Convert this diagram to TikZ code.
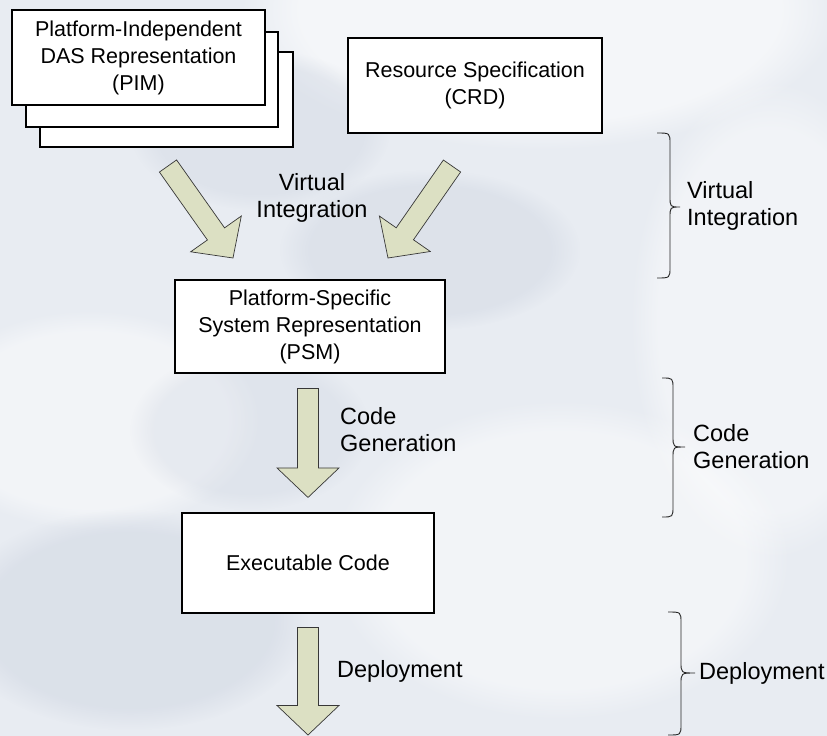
\documentclass[tikz,border=0pt]{standalone}
\usepackage{fontspec}
\setmainfont{Liberation Sans}
\usetikzlibrary{calc,fadings}

\definecolor{bgbase}{RGB}{232,236,242}
\definecolor{bgshade}{RGB}{205,212,224}
\definecolor{arrowfill}{RGB}{220,224,195}
\definecolor{arrowline}{RGB}{55,55,55}

% block arrow from tail coordinate #1 to tip coordinate #2
\newcommand\blockarrow[2]{%
  \coordinate (ba-h) at ($(#2)!29.5pt!(#1)$);
  \filldraw[fatarrow]
    ($(#1)!10.5pt!90:(#2)$) -- ($(ba-h)!10.5pt!90:(#2)$) -- ($(ba-h)!31pt!90:(#2)$)
    -- (#2)
    -- ($(ba-h)!31pt!-90:(#2)$) -- ($(ba-h)!10.5pt!-90:(#2)$) -- ($(#1)!10.5pt!-90:(#2)$)
    -- cycle;}

% curly bracket opening to the right: hook x, spine x, tip x, top y, tip y, bottom y
\newcommand\sidebrace[6]{%
  \draw[bracket]
    (#1,#4) .. controls (#2,#4) .. (#2,#4+11) -- (#2,#5-11)
    .. controls (#2,#5) .. (#3,#5)
    .. controls (#2,#5) .. (#2,#5+11) -- (#2,#6-11)
    .. controls (#2,#6) .. (#1,#6);}

\begin{document}
\begin{tikzpicture}[x=1pt,y=-1pt,
  box/.style={draw=black, line width=1.1pt, fill=white, inner sep=0pt,
    align=center, font=\fontsize{21.5}{27}\selectfont},
  fatarrow/.style={fill=arrowfill, draw=arrowline, line width=0.7pt, line join=miter},
  bracket/.style={draw=black!85, line width=0.9pt},
  lbl/.style={inner sep=0pt, font=\fontsize{23.5}{27}\selectfont},
  haze/.style={path fading=circle with fuzzy edge 20 percent}]

\useasboundingbox (0,0) rectangle (827,736);

% soft backdrop
\fill[bgbase] (0,0) rectangle (827,736);
\begin{scope}
  \clip (0,0) rectangle (827,736);
  \fill[white, opacity=0.55, haze] (540,10) ellipse (300 and 140);
  \fill[white, opacity=0.45, haze] (90,420) ellipse (170 and 110);
  \fill[white, opacity=0.45, haze] (560,560) ellipse (230 and 160);
  \fill[white, opacity=0.40, haze] (770,320) ellipse (140 and 240);
  \fill[bgshade, opacity=0.45, haze] (130,620) ellipse (180 and 110);
  \fill[bgshade, opacity=0.40, haze] (430,250) ellipse (150 and 80);
  \fill[bgshade, opacity=0.35, haze] (260,130) ellipse (130 and 80);
  \fill[bgshade, opacity=0.30, haze] (250,430) ellipse (120 and 80);
\end{scope}

% model boxes
\node[box, minimum width=253pt, minimum height=95pt] (pim3) at (166.5,99.5) {};
\node[box, minimum width=252pt, minimum height=95pt] (pim2) at (152,79.5) {};
\node[box, minimum width=253pt, minimum height=95pt] (pim) at (138.5,57.5)
  {Platform-Independent\\DAS Representation\\(PIM)};
\node[box, minimum width=254pt, minimum height=95pt] (crd) at (475,85.5)
  {Resource Specification\\(CRD)};
\node[box, minimum width=270pt, minimum height=93pt] (psm) at (310,326.5)
  {Platform-Specific\\System Representation\\(PSM)};
\node[box, minimum width=252pt, minimum height=100pt] (exe) at (308,563)
  {Executable Code};

% arrow end points
\coordinate (vi-l-tail) at (168,166);
\coordinate (vi-l-tip)  at (233,258);
\coordinate (vi-r-tail) at (452,166);
\coordinate (vi-r-tip)  at (388,258);
\coordinate (cg-tail) at ($(psm.south)+(-2,15)$);
\coordinate (cg-tip)  at ($(exe.north)+(0,-15)$);
\coordinate (dp-tail) at ($(exe.south)+(0,14)$);
\coordinate (dp-tip)  at (308,735);

\blockarrow{vi-l-tail}{vi-l-tip}
\blockarrow{vi-r-tail}{vi-r-tip}
\blockarrow{cg-tail}{cg-tip}
\blockarrow{dp-tail}{dp-tip}

% step labels beside the arrows
\node[lbl, align=center] (vi-lbl) at (312,198) {Virtual\\Integration};
\node[lbl, align=left, anchor=west] (cg-lbl) at (340,430) {Code\\Generation};
\node[lbl, anchor=west] (dp-lbl) at (337,671) {Deployment};

% phase brackets on the right
\sidebrace{657}{670}{680}{133}{207}{278}
\sidebrace{662}{673}{685}{378}{447}{517}
\sidebrace{668}{681}{695}{612}{673}{735}

\node[lbl, align=left, anchor=west] (vi-phase) at (687,206) {Virtual\\Integration};
\node[lbl, align=left, anchor=west] (cg-phase) at (693,447) {Code\\Generation};
\node[lbl, anchor=west] (dp-phase) at (699,673) {Deployment};

\end{tikzpicture}
\end{document}
